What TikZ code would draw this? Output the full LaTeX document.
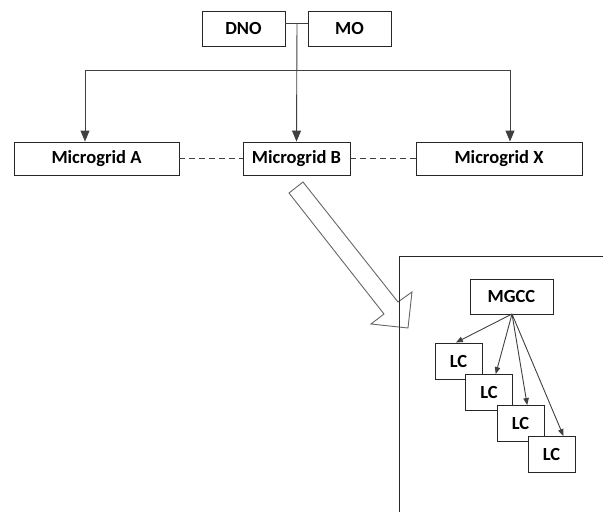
\documentclass[tikz,border=0pt]{standalone}
\usepackage{fontspec}
\setmainfont{Carlito}
\usetikzlibrary{arrows.meta}
\begin{document}
\begin{tikzpicture}[x=1pt,y=-1pt,
  box/.style={draw=black!85,line width=0.9pt,fill=white,inner sep=0pt,font=\bfseries\fontsize{18.5}{20}\selectfont},
  conn/.style={draw=black!75,line width=0.9pt},
  arr/.style={conn,-{Triangle[length=11pt,width=9pt]}},
  sarr/.style={conn,-{Triangle[length=7pt,width=5.5pt]}}]
\useasboundingbox (0,0) rectangle (603,512);
% top
\node[box,minimum width=83pt,minimum height=35pt] (dno) at (243.5,28.5) {DNO};
\node[box,minimum width=83pt,minimum height=35pt] (mo) at (349.5,28.5) {MO};
\coordinate (j) at (297,23);
\coordinate (bl) at (85,70);
\coordinate (br) at (510,70);
% microgrids
\node[box,minimum width=165pt,minimum height=33pt] (ma) at (96.5,158.5) {Microgrid A};
\node[box,minimum width=107pt,minimum height=33pt] (mb) at (296.5,158.5) {Microgrid B};
\node[box,minimum width=166pt,minimum height=33pt] (mx) at (499,158.5) {Microgrid X};
\draw[conn] (dno.east |- j) -- (mo.west |- j);
\draw[arr] (j) -- (mb.north);
\draw[conn] (bl) -- (br);
\draw[arr] (bl) -- (bl |- ma.north);
\draw[arr] (br) -- (br |- mx.north);
\draw[conn,dash pattern=on 6pt off 4pt] (ma.east) -- (mb.west);
\draw[conn,dash pattern=on 6pt off 4pt] (mb.east) -- (mx.west);
% big arrow
\draw[draw=black!60,line width=0.9pt,line join=miter]
  (289,193) -- (303,182) -- (398,302) -- (412,292) -- (408,328) -- (371,324) -- (384,314) -- cycle;
% panel
\draw[conn,draw=black!85] (399,512) -- (399,256) -- (603,256);
% controller
\node[box,minimum width=83pt,minimum height=35pt] (mgcc) at (511.5,296.5) {MGCC};
\node[box,minimum width=47pt,minimum height=36pt] (lc1) at (458.5,361) {LC};
\node[box,minimum width=47pt,minimum height=36pt] (lc2) at (489,392.5) {LC};
\node[box,minimum width=47pt,minimum height=36pt] (lc3) at (520.5,423.5) {LC};
\node[box,minimum width=47pt,minimum height=36pt] (lc4) at (551.5,454.5) {LC};
\coordinate (m) at (512,314);
\draw[sarr] (m) -- (lc1.98);
\draw[sarr] (m) -- (lc2.70);
\draw[sarr] (m) -- (lc3.70);
\draw[sarr] (m) -- (lc4.57);
\end{tikzpicture}
\end{document}
